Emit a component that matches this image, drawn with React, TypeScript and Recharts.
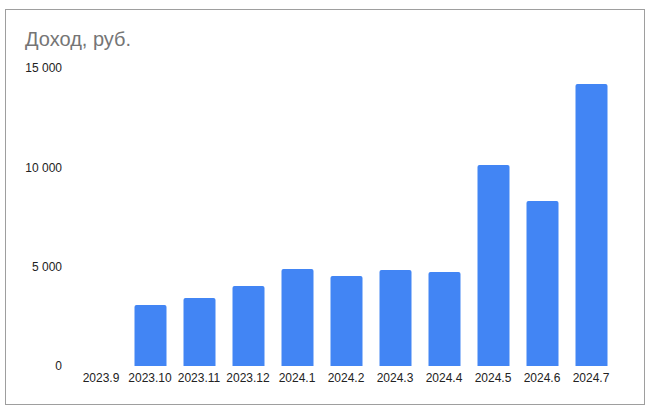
import React from "react";
import { BarChart, Bar, XAxis, YAxis } from "recharts";

const categories = ["2023.9", "2023.10", "2023.11", "2023.12", "2024.1", "2024.2", "2024.3", "2024.4", "2024.5", "2024.6", "2024.7"];
const income = [0, 3070, 3420, 4025, 4880, 4530, 4830, 4730, 10115, 8300, 14190];
const yTicks = [0, 5000, 10000, 15000];

const data = categories.map((c, i) => ({ month: c, value: income[i] }));

const fmt = (v: number) => String(v).replace(/\B(?=(\d{3})+(?!\d))/g, " ");

const font = "Arial, 'Liberation Sans', sans-serif";

export default function App() {
  return (
    <div
      style={{
        position: "absolute",
        left: 5,
        top: 9,
        width: 640,
        height: 396,
        border: "1px solid #9e9e9e",
        boxSizing: "border-box",
        background: "#fff",
        fontFamily: font,
      }}
    >
      <div
        style={{
          position: "absolute",
          left: 19,
          top: 18,
          fontSize: 20,
          color: "#757575",
          fontFamily: font,
          whiteSpace: "nowrap",
        }}
      >
        Доход, руб.
      </div>
      <BarChart
        width={638}
        height={394}
        data={data}
        margin={{ top: 58, right: 28.5, bottom: 8, left: 0 }}
      >
        <XAxis
          dataKey="month"
          axisLine={false}
          tickLine={false}
          tickSize={0}
          tickMargin={7}
          height={30}
          interval={0}
          tick={{ fontSize: 12, fill: "#222", fontFamily: font }}
        />
        <YAxis
          width={70.5}
          domain={[0, 15000]}
          ticks={yTicks}
          axisLine={false}
          tickLine={false}
          tickSize={0}
          tickMargin={14.5}
          tickFormatter={fmt}
          tick={{ fontSize: 12, fill: "#222", fontFamily: font }}
        />
        <Bar dataKey="value" fill="#4285F4" barSize={32} radius={[2, 2, 0, 0]} isAnimationActive={false} />
      </BarChart>
    </div>
  );
}
